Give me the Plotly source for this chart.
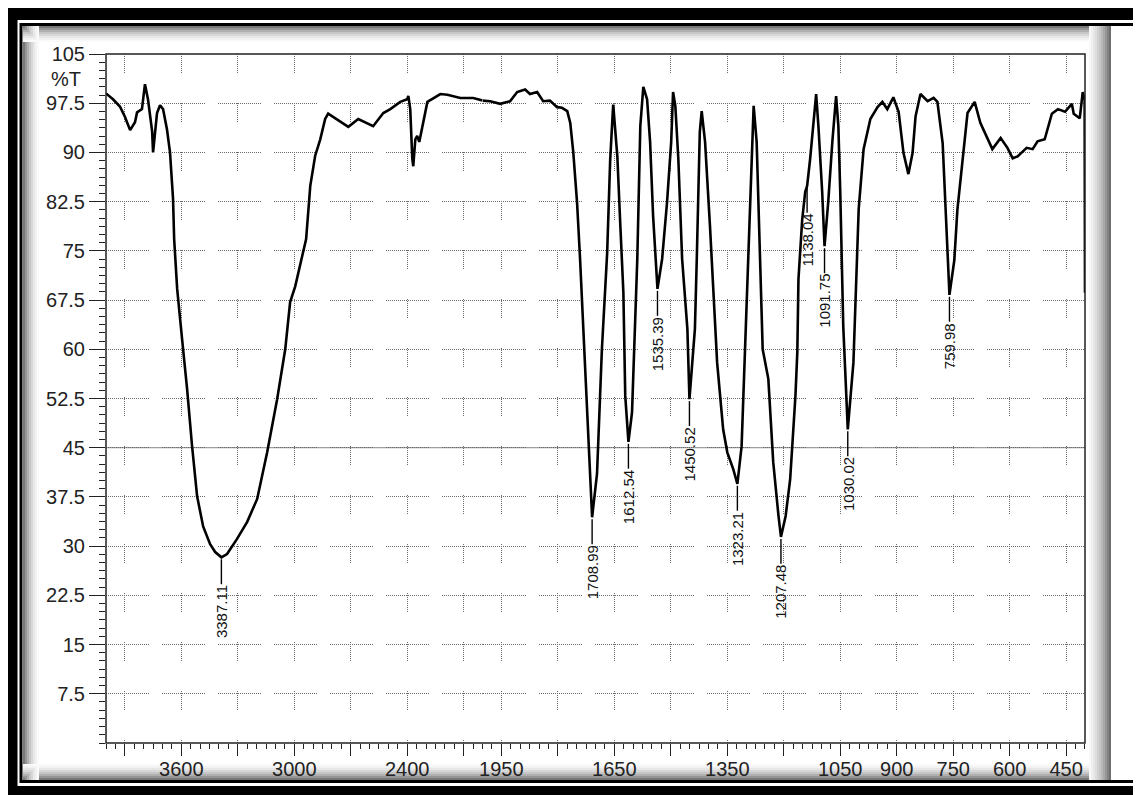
import plotly.graph_objects as go

# ---------------- data ----------------
# 4000-2000 cm-1 part (compressed scale)
wn_high = [4000, 3963, 3926, 3899, 3872, 3862, 3846, 3835, 3809, 3793, 3777, 3755, 3750, 3729,
           3713, 3697, 3676, 3660, 3644, 3638, 3622, 3596, 3569, 3543, 3516, 3484, 3447, 3420,
           3387, 3357, 3304, 3250, 3197, 3144, 3091, 3048, 3022, 2995, 2969, 2937, 2915, 2889,
           2862, 2836, 2820, 2793, 2713, 2660, 2581, 2527, 2490, 2437, 2400, 2394, 2384, 2373,
           2368, 2357, 2347, 2336, 2320, 2293, 2224, 2187, 2118, 2049, 2000]
t_high = [99.0, 98.1, 97.0, 95.4, 93.4, 93.8, 94.6, 96.1, 96.6, 100.4, 98.1, 93.2, 90.0, 96.0,
          97.2, 96.6, 93.5, 90.0, 83.0, 76.8, 69.2, 61.6, 53.9, 45.3, 37.6, 33.0, 30.3, 29.1,
          28.3, 28.8, 31.1, 33.7, 37.2, 44.3, 52.4, 60.0, 67.2, 69.6, 72.7, 76.8, 84.9, 89.5,
          92.0, 95.1, 95.9, 95.4, 93.9, 95.1, 94.0, 96.0, 96.6, 97.7, 98.1, 98.6, 96.6, 89.0,
          87.9, 92.0, 92.5, 91.6, 94.0, 97.7, 98.9, 98.8, 98.3, 98.3, 97.9]

# 2000-400 cm-1 part (expanded scale)
wn_low = [2000, 1980, 1953, 1927, 1908, 1887, 1874, 1855, 1839, 1821, 1802, 1789, 1775, 1767,
          1759, 1749, 1741, 1730, 1717, 1709, 1696, 1683, 1669, 1661, 1653, 1642, 1634, 1626,
          1621, 1612.5, 1603, 1595, 1589, 1581, 1573, 1563, 1555, 1547, 1535.4, 1523, 1510, 1499,
          1494, 1488, 1480, 1470, 1456, 1450.5, 1442, 1436, 1431, 1423, 1418, 1409, 1396, 1383,
          1377, 1361, 1350, 1334, 1323.2, 1312, 1304, 1296, 1285, 1280, 1272, 1264, 1256, 1241,
          1228, 1214, 1207.5, 1195, 1183, 1169, 1164, 1161, 1151, 1143, 1138, 1130, 1122, 1114,
          1108, 1098, 1091.75, 1082, 1071, 1061, 1055, 1050, 1042, 1030, 1015, 1001, 988, 970,
          951, 938, 925, 909, 895, 882, 869, 858, 850, 837, 818, 802, 792, 778, 760, 747, 739,
          725, 712, 693, 678, 646, 624, 606, 592, 579, 555, 539, 526, 507, 488, 472, 453, 435,
          430, 414, 406, 401, 400]
t_low = [97.9, 97.8, 97.4, 97.8, 99.2, 99.6, 98.9, 99.2, 97.8, 97.9, 96.9, 96.8, 96.3, 94.5,
         90.0, 82.4, 73.8, 60.0, 44.8, 34.4, 41.0, 60.0, 74.7, 88.9, 97.3, 89.4, 78.8, 68.7,
         52.9, 45.9, 50.4, 63.1, 73.8, 94.0, 100.0, 98.1, 91.6, 80.3, 69.2, 73.8, 82.4, 91.6,
         99.2, 97.1, 89.0, 73.8, 63.1, 52.4, 58.0, 63.1, 73.8, 93.1, 96.3, 91.6, 78.8, 63.5,
         58.0, 47.8, 44.3, 41.7, 39.5, 45.2, 58.0, 68.7, 89.0, 97.1, 91.6, 73.8, 60.0, 55.5,
         42.8, 34.6, 31.4, 34.6, 40.2, 52.9, 59.6, 70.7, 79.8, 84.0, 84.9, 89.0, 94.0, 98.9,
         94.0, 84.0, 75.7, 82.4, 91.6, 98.6, 94.0, 84.0, 63.5, 47.8, 58.0, 81.4, 90.5, 95.1,
         96.9, 97.7, 96.6, 98.4, 96.2, 89.9, 86.7, 89.9, 95.5, 98.9, 97.8, 98.3, 97.7, 91.4, 68.3,
         73.6, 81.2, 89.0, 96.0, 97.7, 94.5, 90.5, 92.2, 90.7, 89.1, 89.4, 90.7, 90.5, 91.7,
         92.0, 95.9, 96.6, 96.2, 97.4, 95.9, 95.2, 99.2, 98.0, 68.6]

peak_wn = [3387.11, 1708.99, 1612.54, 1535.39, 1450.52, 1323.21, 1207.48, 1138.04, 1091.75,
           1030.02, 759.98]
peak_t = [28.3, 34.4, 45.9, 69.2, 52.4, 39.5, 31.4, 84.9, 75.7, 47.8, 68.3]
peak_labels = ["3387.11", "1708.99", "1612.54", "1535.39", "1450.52", "1323.21", "1207.48",
               "1138.04", "1091.75", "1030.02", "759.98"]

y_tickvals = [105, 97.5, 90, 82.5, 75, 67.5, 60, 52.5, 45, 37.5, 30, 22.5, 15, 7.5]
y_ticktext = ["105", "97.5", "90", "82.5", "75", "67.5", "60", "52.5", "45", "37.5", "30",
              "22.5", "15", "7.5"]
hi_tickvals = [3900, 3600, 3300, 3000, 2700, 2400, 2100]
hi_ticktext = ["", "3600", "", "3000", "", "2400", ""]
lo_tickvals = [1950, 1800, 1650, 1500, 1350, 1200, 1050, 900, 750, 600, 450]
lo_ticktext = ["1950", "", "1650", "", "1350", "", "1050", "900", "750", "600", "450"]

assert len(wn_high) == len(t_high) and len(wn_low) == len(t_low)

# ---------------- layout geometry ----------------
# the page body keeps its default 8px margin, so the figure is drawn 8px in
OFF = 8
W, H = 1141 - OFF, 795 - OFF
PAGE_L, PAGE_T, PAGE_R, PAGE_B = 106, 54, 1085, 743   # plot area on the page
L, T = PAGE_L - OFF, PAGE_T - OFF
R, B = W - (PAGE_R - OFF), H - (PAGE_B - OFF)
PW, PH = W - L - R, H - T - B
split = 1000 / 2600  # 4000-2000 is drawn at half the density of 2000-400

FONT = "Liberation Sans, Arial, sans-serif"
tick_font = dict(family=FONT, size=20, color="#222")


def dash_pattern(dot_len, gap):
    parts = ["1px", "1px"] * (dot_len // 2)
    parts[-1] = f"{gap}px"
    return ",".join(parts)


hgrid = dash_pattern(44, 13)
vgrid = dash_pattern(20, 30)

fig = go.Figure()
line_style = dict(color="black", width=2.6)
fig.add_trace(go.Scatter(x=wn_high, y=t_high, xaxis="x", yaxis="y", mode="lines",
                         line=line_style, hoverinfo="skip"))
fig.add_trace(go.Scatter(x=wn_low, y=t_low, xaxis="x2", yaxis="y", mode="lines",
                         line=line_style, hoverinfo="skip"))

common_x = dict(
    tickmode="array", ticks="outside", ticklen=12, tickwidth=1.3, tickcolor="#222",
    ticklabelstandoff=-4,
    showline=False, zeroline=False, showgrid=True, gridcolor="#6a6a6a", gridwidth=1,
    griddash=vgrid, tickfont=tick_font, anchor="y", fixedrange=True,
)
fig.update_layout(
    width=W, height=H,
    margin=dict(l=L, r=R, t=T, b=B, pad=0),
    paper_bgcolor="white", plot_bgcolor="rgba(0,0,0,0)",
    showlegend=False,
    xaxis=dict(domain=[0, split], range=[4000, 2000], tickvals=hi_tickvals,
               ticktext=hi_ticktext,
               minor=dict(tickmode="linear", tick0=0, dtick=50, ticks="outside",
                          ticklen=5, tickwidth=1.2, tickcolor="#222", showgrid=False),
               **common_x),
    xaxis2=dict(domain=[split, 1], range=[2000, 400], tickvals=lo_tickvals,
                ticktext=lo_ticktext,
                minor=dict(tickmode="linear", tick0=0, dtick=25, ticks="outside",
                           ticklen=5, tickwidth=1.2, tickcolor="#222", showgrid=False),
                **common_x),
    yaxis=dict(range=[0, 105], tickmode="array", tickvals=y_tickvals, ticktext=y_ticktext,
               ticks="outside", ticklen=16, tickwidth=1.3, tickcolor="#222",
               minor=dict(tickmode="linear", tick0=0, dtick=1.25, ticks="outside",
                          ticklen=6, tickwidth=1.2, tickcolor="#222", showgrid=False),
               showline=False, zeroline=False, showgrid=True, gridcolor="#6a6a6a",
               gridwidth=1, griddash=hgrid, tickfont=tick_font, anchor="x",
               fixedrange=True),
)

# solid reference line at 45 %T
fig.add_shape(type="line", xref="paper", yref="y", x0=0, x1=1, y0=45, y1=45,
              line=dict(color="#888", width=1), layer="below")

# peak labels with short leader lines
for wn, t, lab in zip(peak_wn, peak_t, peak_labels):
    xr = "x" if wn > 2000 else "x2"
    fig.add_shape(type="line", xref=xr, yref="y", x0=wn, x1=wn, y0=t - 0.3, y1=t - 4.1,
                  line=dict(color="black", width=1.4))
    fig.add_annotation(x=wn, y=t - 4.1, xref=xr, yref="y", text=lab, textangle=-90,
                       showarrow=False, xanchor="center", yanchor="top", borderpad=0,
                       font=dict(family=FONT, size=15, color="#111"))


def px_x(page_x):
    return (page_x - OFF - L) / PW


def px_y(page_y):
    return (H - B - (page_y - OFF)) / PH


# "%T" unit label
fig.add_annotation(xref="paper", yref="paper", x=px_x(83), y=px_y(79),
                   text="%T", showarrow=False, xanchor="right", yanchor="middle",
                   font=tick_font)


# ---------------- decorative frame (page pixel coords) ----------------
def rect_px(x0, y0, x1, y1, fill=None, line=None, layer="below"):
    x0, y0 = max(x0, OFF), max(y0, OFF)
    fig.add_shape(type="rect", xref="paper", yref="paper",
                  x0=px_x(x0), x1=px_x(x1), y0=px_y(y1), y1=px_y(y0),
                  fillcolor=fill, line=line if line else dict(width=0), layer=layer)


shade = [120, 150, 175, 198, 216, 231, 242, 250]
for i, g in enumerate(shade):
    c = f"rgb({g},{g},{g})"
    rect_px(23 + 2 * i, 26, 25 + 2 * i, 780, fill=c)          # left bevel
    rect_px(23, 26 + 2 * i, 1111, 28 + 2 * i, fill=c)          # top bevel
    rect_px(23, 778 - 2 * i, 1111, 780 - 2 * i, fill=c)        # bottom bevel
for i, g in enumerate([110, 130, 150, 168, 184, 198, 210, 221, 231, 240, 248]):
    c = f"rgb({g},{g},{g})"
    rect_px(1109 - 2 * i, 26, 1111 - 2 * i, 780, fill=c)       # right shadow strip

# thin inner frame line
rect_px(21, 24.5, 1137.5, 781.5, line=dict(color="black", width=3))
# thick outer black frame
rect_px(8, 8, 1141, 20, fill="black")
rect_px(8, 8, 17.5, 795, fill="black")
rect_px(8, 786, 1141, 795, fill="black")
rect_px(1137, 8, 1141, 795, fill="black")

# plot area border
fig.add_shape(type="rect", xref="paper", yref="paper", x0=0, x1=1, y0=0, y1=1,
              line=dict(color="#222", width=1.5), layer="above")

fig.write_html("out.html")
